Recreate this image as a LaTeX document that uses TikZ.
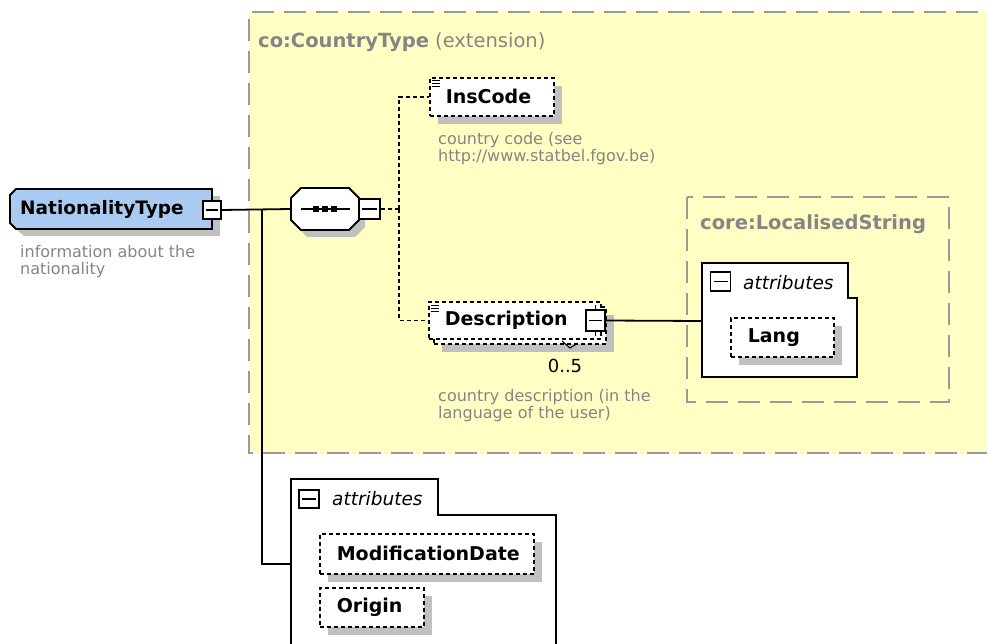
\documentclass[tikz,border=0pt]{standalone}
\usepackage{fontspec}
\setmainfont{DejaVu Sans}
\usetikzlibrary{shadows}
\definecolor{ylw}{HTML}{FFFFC4}
\definecolor{blu}{HTML}{A9CBF2}
\definecolor{shd}{HTML}{C0C0C0}
\definecolor{gtx}{HTML}{858585}
\definecolor{gbd}{HTML}{9A9A9A}
\begin{document}
\begin{tikzpicture}[x=1pt,y=-1pt,
  ln/.style={line width=1.8pt},
  cdash/.style={line width=1.6pt, dash pattern=on 4pt off 3pt},
  grpbox/.style={draw=gbd, line width=2pt, dash pattern=on 22pt off 10pt},
  shdw/.style={drop shadow={shadow xshift=8pt,shadow yshift=-8pt,fill=shd,opacity=1}},
  elbox/.style={draw, fill=white, line width=1.6pt, dash pattern=on 4pt off 3pt,
    inner ysep=0pt, align=left, font=\fontsize{19}{22}\selectfont\bfseries, shdw},
  mbox/.style={draw, fill=white, line width=1.5pt, inner sep=0pt,
    minimum width=19pt, minimum height=19pt,
    path picture={\draw[line width=1.4pt] ([xshift=3pt]path picture bounding box.west) -- ([xshift=-3pt]path picture bounding box.east);}},
  gdesc/.style={anchor=north west, inner sep=0pt, align=left, text=gtx, font=\fontsize{16}{17}\selectfont},
  gtitle/.style={anchor=west, inner sep=0pt, text=gtx, font=\fontsize{19.5}{22}\selectfont},
  attrtxt/.style={anchor=west, inner sep=0pt, font=\fontsize{18.5}{22}\selectfont\itshape},
  bigtxt/.style={anchor=west, inner sep=0pt, font=\fontsize{18.5}{22}\selectfont\bfseries}
]
\useasboundingbox (0,0) rectangle (987,644);

% extension group box
\path[fill=ylw] (249,12) rectangle (1010,453);
\draw[grpbox] (1010,12) -- (249,12) -- (249,453) -- (1010,453);
\node[gtitle] (ctitle) at (258,42) {\textbf{co:CountryType} (extension)};

% NationalityType
\fill[shd] (24,196) -- (220,196) -- (220,236) -- (24,236) -- (17,230) -- (17,202) -- cycle;
\draw[ln, fill=blu] (16,189) -- (212,189) -- (212,229) -- (16,229) -- (10,223) -- (10,195) -- cycle;
\node[bigtxt] (nat) at (20,209) {NationalityType};
\node[mbox, minimum width=18pt, minimum height=18pt] (natm) at (212,210) {};
\node[gdesc] (natd) at (20,245) {information about the\\nationality};

% sequence compositor
\fill[shd] (307,195) -- (355,195) -- (365,205) -- (365,227) -- (355,237) -- (307,237) -- (297,227) -- (297,205) -- cycle;
\draw[ln, fill=white] (301,188) -- (349,188) -- (359,198) -- (359,220) -- (349,230) -- (301,230) -- (291,220) -- (291,198) -- cycle;
\node[minimum width=68pt, minimum height=42pt, inner sep=0pt] (seq) at (325,209) {};
\draw[ln] (301,209) -- (350,209);
\foreach \cx in {316,325,334} \fill (\cx-3,206) rectangle (\cx+3,212);
\node[mbox, minimum width=21pt, minimum height=20pt] (seqm) at (369.5,209) {};

% connectors from NationalityType
\coordinate (jn) at (262,210);
\coordinate (battr) at (291,564);
\draw[ln] (natm.east) -- (seq.west);
\draw[ln] (jn) |- (battr);

% InsCode
\node[elbox, anchor=north west, minimum height=38pt, text width=92pt, inner xsep=16pt] (ins) at (429,77) {InsCode};
\foreach \ly in {80,83,86} \draw[line width=0.9pt] (432,\ly) -- (440,\ly);
\node[gdesc] (insd) at (438,132) {country code (see\\http://www.statbel.fgov.be)};

% Description (multiple)
\node[elbox, anchor=north west, minimum height=37pt, text width=140pt, inner xsep=16pt] (desc2) at (433,306) {\phantom{Description}};
\node[draw, fill=white, line width=1.6pt, dash pattern=on 4pt off 3pt, anchor=north west, minimum height=37pt, text width=140pt, inner xsep=16pt, inner ysep=0pt, align=left, font=\fontsize{19}{22}\selectfont\bfseries] (desc) at (428,301) {Description};
\foreach \ly in {305,308,311} \draw[line width=0.9pt] (431,\ly) -- (439,\ly);
\node[mbox, minimum width=19pt, minimum height=21pt] (descm) at (595.5,320.5) {};
\draw[line width=1.4pt] (descm.north) -- ++(0,-4);
\draw[line width=1.4pt] (descm.south) -- ++(0,4);
\draw[line width=1pt] (562,341) -- (570,348) -- (578,343);
\node[inner sep=0pt, font=\fontsize{18}{20}\selectfont] (card) at (565,366) {0..5};
\node[gdesc] (descd) at (438,389) {country description (in the\\language of the user)};

% dashed sequence connectors
\coordinate (sq) at (399,209);
\draw[cdash] (seqm.east) -- (sq);
\draw[cdash] (sq) |- (ins.west);
\draw[cdash] (sq) |- (desc.west);

% core:LocalisedString
\draw[grpbox] (687,197) rectangle (949,402);
\node[gtitle, font=\fontsize{19.5}{22}\selectfont\bfseries] (lstitle) at (700,224) {core:LocalisedString};
\draw[ln, fill=white] (702,263) -- (848,263) -- (848,298) -- (857,298) -- (857,377) -- (702,377) -- cycle;
\coordinate (lsattr) at (702,321);
\node[mbox, minimum width=20pt, minimum height=19pt] (lsm) at (720.5,281.5) {};
\node[attrtxt] (lsat) at (743,283) {attributes};
\node[elbox, anchor=north west, minimum height=39pt, text width=69pt, inner xsep=17pt] (lang) at (730,317) {Lang};
\draw[ln] (descm.east) -- (lsattr);

% bottom attributes
\draw[ln, fill=white] (291,660) -- (291,479) -- (438,479) -- (438,515) -- (556,515) -- (556,660);
\node[mbox, minimum width=20pt, minimum height=18pt] (bm) at (309,499) {};
\node[attrtxt] (bat) at (332,499) {attributes};
\node[elbox, anchor=north west, minimum height=40pt, text width=180pt, inner xsep=17pt] (mod) at (319,533) {ModificationDate};
\node[elbox, anchor=north west, minimum height=39pt, text width=70pt, inner xsep=17pt] (orig) at (319,587) {Origin};
\end{tikzpicture}
\end{document}
